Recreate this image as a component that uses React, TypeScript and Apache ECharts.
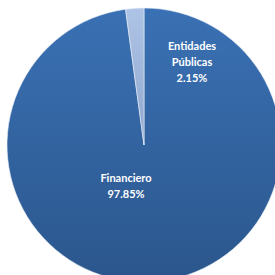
import React, { useEffect, useRef } from "react";
import * as echarts from "echarts";

const categories = ["Financiero", "Entidades Públicas"];
const labelLines = [["Financiero"], ["Entidades", "Públicas"]];
const values = [97.85, 2.15];

export default function App() {
  const ref = useRef<HTMLDivElement>(null);
  useEffect(() => {
    if (!ref.current) return;
    const chart = echarts.init(ref.current, null, { renderer: "svg" });
    const labelPos: Record<number, [number, number]> = { 0: [126, 185], 1: [192, 61] };
    chart.setOption({
      animation: false,
      backgroundColor: "#ffffff",
      series: [
        {
          type: "pie",
          center: [144, 145],
          radius: [0, 137],
          startAngle: 90,
          clockwise: true,
          percentPrecision: 2,
          label: {
            show: true,
            position: "inside",
            formatter: (p: any) => labelLines[p.dataIndex].join("\n") + "\n" + p.percent.toFixed(2) + "%",
            color: "#ffffff",
            fontFamily: "Lato",
            fontWeight: "bold",
            fontSize: 11,
            lineHeight: 16,
            align: "center",
          },
          labelLine: { show: false },
          labelLayout: (p: any) => ({
            x: labelPos[p.dataIndex][0],
            y: labelPos[p.dataIndex][1],
            align: "center",
            verticalAlign: "middle",
          }),
          itemStyle: { borderColor: "#e8eef6", borderWidth: 0.6 },
          emphasis: { disabled: true },
          data: categories.map((c, i) => ({
            name: c,
            value: values[i],
            itemStyle: {
              color:
                i === 0
                  ? new echarts.graphic.LinearGradient(0, 0, 0, 1, [
                      { offset: 0, color: "#3a71b4" },
                      { offset: 1, color: "#2b568c" },
                    ])
                  : new echarts.graphic.LinearGradient(0, 0, 0, 1, [
                      { offset: 0, color: "#aec4e6" },
                      { offset: 1, color: "#8fa8cf" },
                    ]),
            },
          })),
        },
      ],
    });
    return () => chart.dispose();
  }, []);
  return (
    <div
      ref={ref}
      style={{ position: "absolute", left: 0, top: 0, width: 275, height: 275 }}
    />
  );
}
